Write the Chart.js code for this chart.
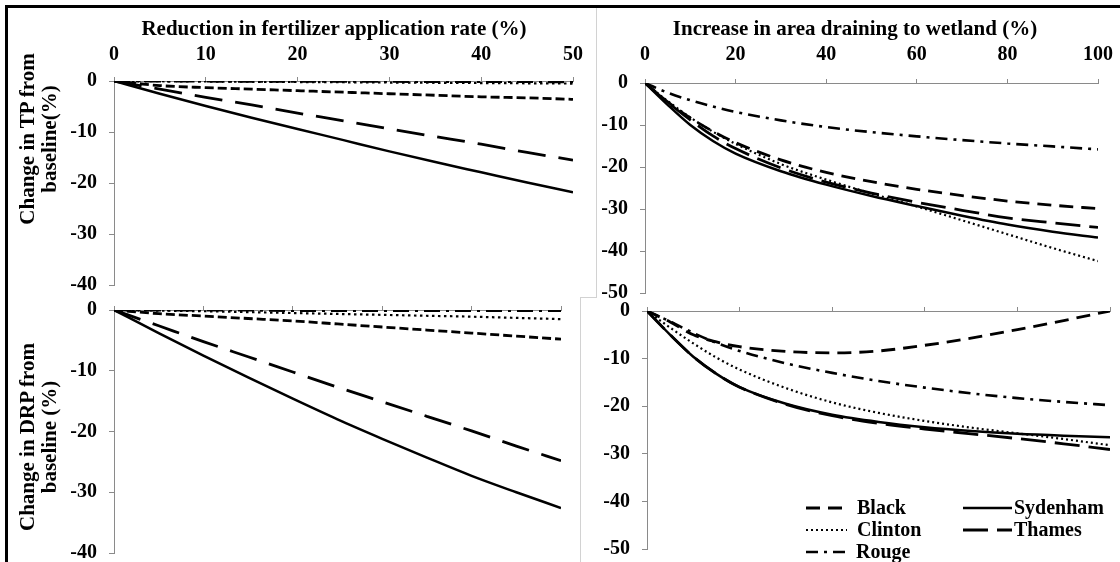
<!DOCTYPE html>
<html>
<head>
<meta charset="utf-8">
<script src="https://cdn.jsdelivr.net/npm/chart.js@4.4.1/dist/chart.umd.min.js"></script>
<style>
html,body{margin:0;padding:0;background:#fff;}
#wrap{position:relative;width:1120px;height:562px;overflow:hidden;background:#fff;font-family:"Liberation Serif","Times New Roman",serif;}
.panel{position:absolute;}
.panel canvas{display:block;}
.frame{position:absolute;left:5px;top:5px;width:1300px;height:800px;border-top:3px solid #000;border-left:3px solid #000;}
.sep{position:absolute;background:#d2d2d2;}
.ttl{position:absolute;font-weight:bold;font-size:21px;white-space:nowrap;color:#000;transform:translate(-50%,-50%);line-height:1;}
.ytl{position:absolute;font-weight:bold;font-size:21px;line-height:22px;white-space:nowrap;text-align:center;color:#000;width:240px;height:44px;transform:rotate(-90deg);transform-origin:50% 50%;}
</style>
</head>
<body>
<div id="wrap">
  <div class="frame"></div>
  <div class="sep" style="left:596px;top:8px;width:1px;height:289px;"></div>
  <div class="sep" style="left:580px;top:297px;width:17px;height:1px;"></div>
  <div class="sep" style="left:580px;top:297px;width:1px;height:270px;"></div>

  <div class="panel" style="left:0;top:0;width:600px;height:300px;"><canvas id="tl"></canvas></div>
  <div class="panel" style="left:596px;top:0;width:524px;height:310px;"><canvas id="tr"></canvas></div>
  <div class="panel" style="left:0;top:297px;width:600px;height:265px;"><canvas id="bl"></canvas></div>
  <div class="panel" style="left:596px;top:297px;width:524px;height:265px;"><canvas id="br"></canvas></div>

  <div class="ttl" style="left:334px;top:28px;">Reduction in fertilizer application rate (%)</div>
  <div class="ttl" style="left:855px;top:28px;">Increase in area draining to wetland (%)</div>
  <div class="ytl" style="left:-82px;top:117px;">Change in TP from<br>baseline(%)</div>
  <div class="ytl" style="left:-82px;top:415px;">Change in DRP from<br>baseline (%)</div>
</div>
<script>
// ---------- data ----------
const seriesNames = ['Black', 'Clinton', 'Rouge', 'Sydenham', 'Thames'];

const fertX = [0, 5, 10, 15, 20, 25, 30, 35, 40, 45, 50];
const wetX  = [0, 5, 10, 15, 20, 30, 40, 50, 60, 70, 80, 90, 100];
const fertTicks = [0, 10, 20, 30, 40, 50];
const wetTicks  = [0, 20, 40, 60, 80, 100];
const tpFertTicks = [0, -10, -20, -30, -40];
const tpWetTicks  = [0, -10, -20, -30, -40, -50];
const drpFertTicks = [0, -10, -20, -30, -40];
const drpWetTicks  = [0, -10, -20, -30, -40, -50];

// TP vs fertilizer reduction
const tpFertBlack    = [0, -0.9, -1.3, -1.6, -1.9, -2.2, -2.5, -2.8, -3.1, -3.3, -3.6];
const tpFertClinton  = [0, -0.05, -0.1, -0.15, -0.2, -0.25, -0.3, -0.35, -0.4, -0.45, -0.5];
const tpFertRouge    = [0, -0.05, -0.05, -0.1, -0.1, -0.1, -0.1, -0.15, -0.15, -0.15, -0.2];
const tpFertSydenham = [0, -2.5, -4.9, -7.2, -9.4, -11.6, -13.8, -15.9, -17.9, -19.9, -21.8];
const tpFertThames   = [0, -1.6, -3.2, -4.7, -6.3, -7.8, -9.4, -10.9, -12.4, -14.0, -15.5];

// TP vs wetland area
const tpWetBlack    = [0, -4.5, -8.3, -11.5, -14.2, -18.3, -21.3, -23.5, -25.3, -26.8, -28.1, -29.1, -29.9];
const tpWetClinton  = [0, -4.3, -8.2, -11.6, -14.5, -19.3, -23.0, -26.3, -29.4, -32.7, -36.0, -39.3, -42.4];
const tpWetRouge    = [0, -2.3, -4.1, -5.6, -6.9, -8.9, -10.5, -11.7, -12.7, -13.6, -14.4, -15.1, -15.8];
const tpWetSydenham = [0, -5.2, -10.0, -13.8, -16.8, -21.0, -24.2, -26.9, -29.3, -31.6, -33.7, -35.4, -36.8];
const tpWetThames   = [0, -4.6, -8.8, -12.6, -15.6, -20.2, -23.6, -26.2, -28.4, -30.3, -32.1, -33.3, -34.4];

// DRP vs fertilizer reduction
const drpFertBlack    = [0, -0.6, -1.0, -1.4, -1.8, -2.3, -2.8, -3.3, -3.8, -4.3, -4.8];
const drpFertClinton  = [0, -0.1, -0.2, -0.35, -0.5, -0.65, -0.8, -0.95, -1.1, -1.3, -1.5];
const drpFertRouge    = [0, -0.05, -0.05, -0.05, -0.1, -0.1, -0.1, -0.1, -0.1, -0.1, -0.1];
const drpFertSydenham = [0, -3.8, -7.5, -11.1, -14.6, -18.0, -21.2, -24.3, -27.3, -30.0, -32.6];
const drpFertThames   = [0, -2.6, -5.2, -7.7, -10.2, -12.7, -15.1, -17.5, -19.9, -22.4, -24.8];

// DRP vs wetland area
const drpWetBlack    = [0, -2.3, -5.0, -6.5, -7.5, -8.5, -8.8, -8.4, -7.2, -5.7, -3.9, -2.0, 0];
const drpWetClinton  = [0, -3.5, -6.8, -9.8, -12.3, -16.2, -19.2, -21.4, -23.1, -24.5, -25.7, -26.9, -28.2];
const drpWetRouge    = [0, -2.2, -4.6, -6.7, -8.4, -11.0, -13.0, -14.7, -16.1, -17.3, -18.3, -19.1, -19.8];
const drpWetSydenham = [0, -5.0, -9.6, -13.2, -16.0, -19.5, -21.8, -23.3, -24.4, -25.2, -25.8, -26.2, -26.5];
const drpWetThames   = [0, -5.0, -9.6, -13.2, -16.0, -19.6, -22.0, -23.6, -24.8, -25.8, -26.8, -27.9, -29.1];

// ---------- styles ----------
const SERIF = '"Liberation Serif", "Times New Roman", serif';
const AX = '#8a8a8a';
const lineWidths = {Black: 2.8, Clinton: 2.2, Rouge: 2.6, Sydenham: 2.5, Thames: 2.8};
const dashSets = {
  left:  {Black: [9, 4], Clinton: [2.5, 3.5], Rouge: [16, 6, 3, 6], Sydenham: [], Thames: [28, 13]},
  right: {Black: [14, 8], Clinton: [2, 3], Rouge: [12, 6, 3, 6], Sydenham: [], Thames: [25, 9]}
};

function pts(xs, ys) { return xs.map((x, i) => ({x: x, y: ys[i]})); }

function buildDatasets(xs, arrays, kind) {
  return seriesNames.map((n, i) => ({
    label: n,
    data: pts(xs, arrays[i]),
    borderColor: '#000',
    backgroundColor: '#000',
    borderWidth: lineWidths[n],
    borderDash: dashSets[kind][n],
    borderCapStyle: 'butt',
    pointRadius: 0,
    fill: false,
    cubicInterpolationMode: 'monotone'
  }));
}

const legendPlugin = {
  id: 'cornerLegend',
  afterDraw(chart, args, opts) {
    if (!opts || !opts.items) return;
    const ctx = chart.ctx;
    ctx.save();
    ctx.font = opts.font;
    ctx.textBaseline = 'middle';
    ctx.textAlign = 'left';
    ctx.fillStyle = '#000';
    opts.items.forEach(it => {
      const ds = chart.data.datasets.find(d => d.label === it.label);
      ctx.strokeStyle = ds.borderColor;
      ctx.lineWidth = ds.borderWidth;
      ctx.lineCap = 'butt';
      ctx.setLineDash(ds.borderDash || []);
      ctx.beginPath();
      ctx.moveTo(it.x1, it.y);
      ctx.lineTo(it.x2, it.y);
      ctx.stroke();
      ctx.setLineDash([]);
      ctx.fillText(ds.label, it.tx, it.y + 1);
    });
    ctx.restore();
  }
};

function makeChart(id, p) {
  const tickFont = {family: SERIF, size: 20, weight: 'bold'};
  return new Chart(document.getElementById(id), {
    type: 'line',
    data: {datasets: buildDatasets(p.xs, p.arrays, p.kind)},
    plugins: [legendPlugin],
    options: {
      responsive: true,
      maintainAspectRatio: false,
      animation: false,
      events: [],
      layout: {padding: {left: 0, top: 0, right: p.pr, bottom: p.pb}},
      plugins: {
        legend: {display: false},
        tooltip: {enabled: false},
        title: {display: false},
        cornerLegend: p.legend || {}
      },
      scales: {
        x: {
          type: 'linear', position: 'top', min: p.xmin, max: p.xmax,
          afterBuildTicks: s => { s.ticks = p.xticks.map(v => ({value: v})); },
          ticks: {display: p.xlabels, color: '#000', font: tickFont, padding: p.xpad, maxRotation: 0, autoSkip: false},
          grid: {display: true, drawOnChartArea: false, drawTicks: true, tickLength: 4, color: AX, lineWidth: 1},
          border: {display: true, color: AX, width: 1},
          afterFit: s => { s.height = p.xh; s.paddingLeft = 0; s.paddingRight = 0; }
        },
        y: {
          type: 'linear', position: 'left', min: p.ymin, max: 0,
          afterBuildTicks: s => { s.ticks = p.yticks.map(v => ({value: v})); },
          ticks: {color: '#000', font: tickFont, padding: 12, autoSkip: false},
          grid: {display: true, drawOnChartArea: false, drawTicks: true, tickLength: 5, color: AX, lineWidth: 1},
          border: {display: true, color: AX, width: 1},
          afterFit: s => { s.width = p.yw; s.paddingTop = 0; s.paddingBottom = 0; }
        }
      }
    }
  });
}

makeChart('tl', {
  xs: fertX, kind: 'left',
  arrays: [tpFertBlack, tpFertClinton, tpFertRouge, tpFertSydenham, tpFertThames],
  xmin: 0, xmax: 50, xticks: fertTicks, xlabels: true, xpad: 10,
  ymin: -40, yticks: tpFertTicks,
  yw: 114, xh: 81, pr: 27, pb: 15
});

makeChart('tr', {
  xs: wetX, kind: 'right',
  arrays: [tpWetBlack, tpWetClinton, tpWetRouge, tpWetSydenham, tpWetThames],
  xmin: 0, xmax: 100, xticks: wetTicks, xlabels: true, xpad: 12,
  ymin: -50, yticks: tpWetTicks,
  yw: 49, xh: 83, pr: 22, pb: 17
});

makeChart('bl', {
  xs: fertX, kind: 'left',
  arrays: [drpFertBlack, drpFertClinton, drpFertRouge, drpFertSydenham, drpFertThames],
  xmin: 0, xmax: 50, xticks: fertTicks, xlabels: false, xpad: 0,
  ymin: -40, yticks: drpFertTicks,
  yw: 114, xh: 13, pr: 39, pb: 9
});

makeChart('br', {
  xs: wetX, kind: 'right',
  arrays: [drpWetBlack, drpWetClinton, drpWetRouge, drpWetSydenham, drpWetThames],
  xmin: 0, xmax: 100, xticks: wetTicks, xlabels: false, xpad: 0,
  ymin: -50, yticks: drpWetTicks,
  yw: 51, xh: 14, pr: 10, pb: 13,
  legend: {
    font: 'bold 20px ' + SERIF,
    items: [
      {label: 'Black',    x1: 210, x2: 246, y: 211, tx: 261},
      {label: 'Clinton',  x1: 210, x2: 251, y: 233, tx: 261},
      {label: 'Rouge',    x1: 210, x2: 249, y: 255, tx: 260},
      {label: 'Sydenham', x1: 367, x2: 416, y: 211, tx: 418},
      {label: 'Thames',   x1: 367, x2: 416, y: 233, tx: 418}
    ]
  }
});
</script>
</body>
</html>
